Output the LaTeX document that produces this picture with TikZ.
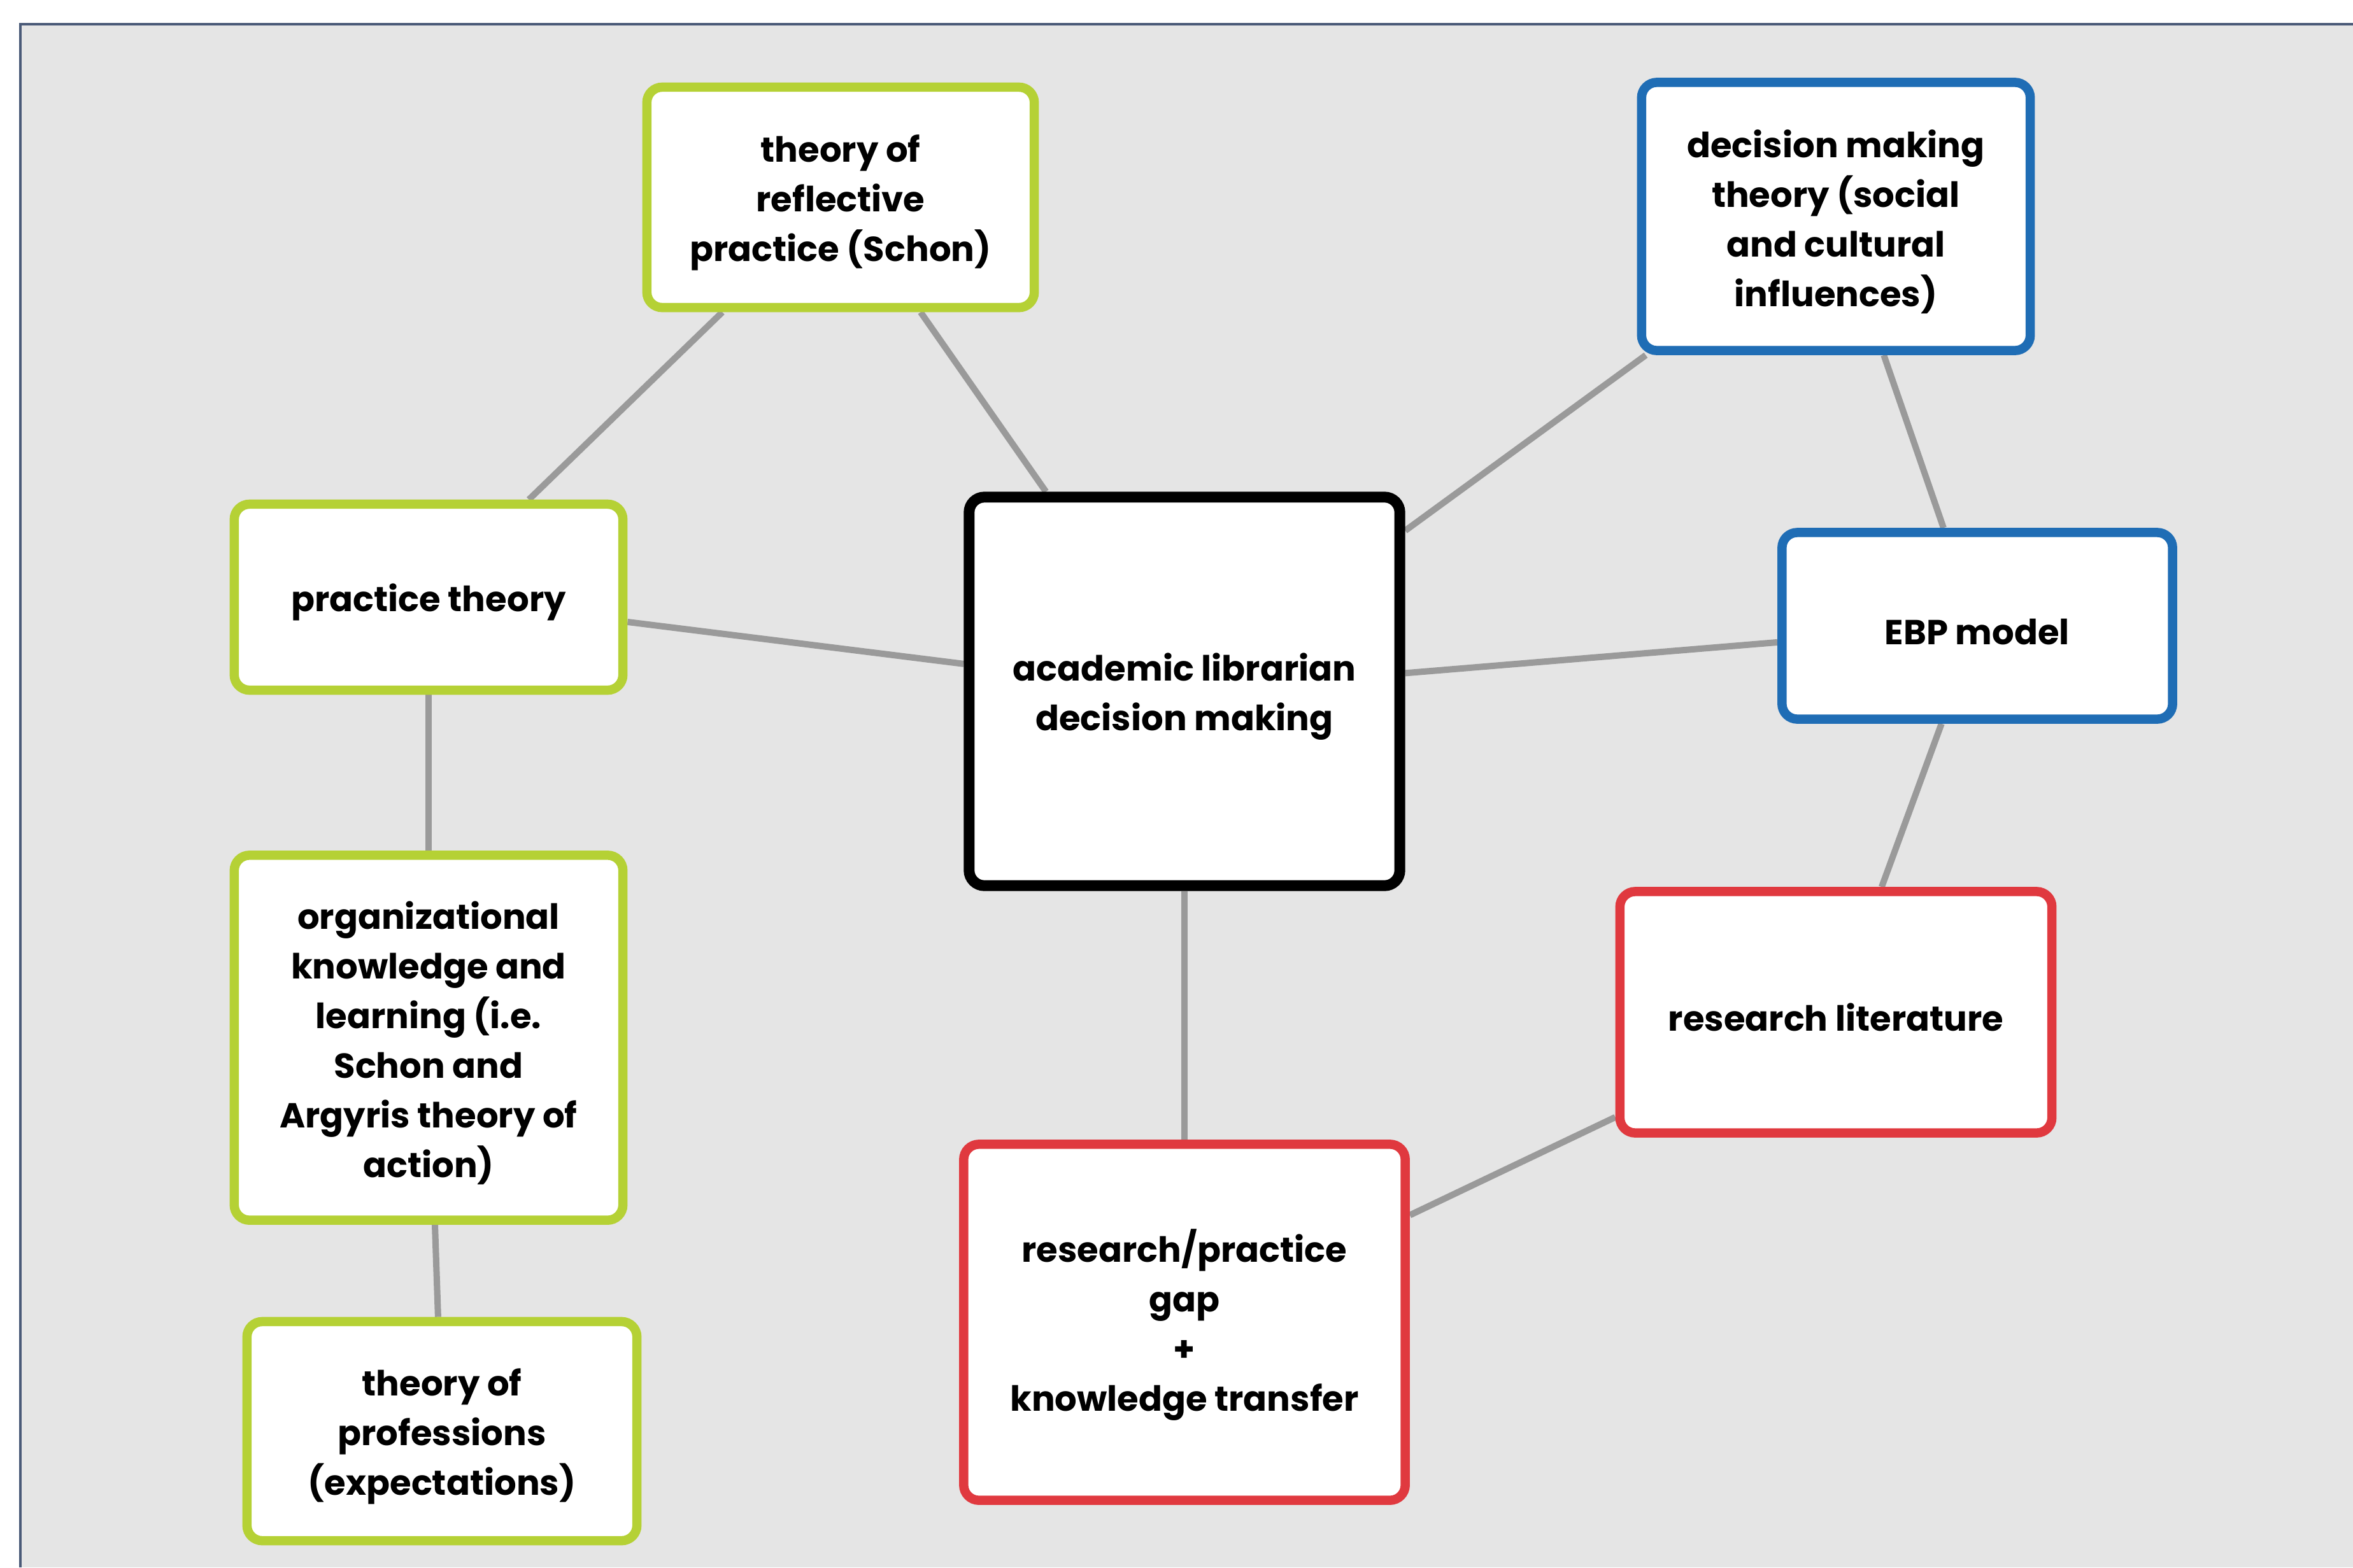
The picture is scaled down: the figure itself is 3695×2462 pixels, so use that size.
\documentclass[tikz,border=0pt]{standalone}
\usepackage{fontspec}
\setmainfont{Poppins}
\pgfdeclarelayer{panel}
\pgfdeclarelayer{lines}
\pgfsetlayers{panel,lines,main}
\definecolor{panelgray}{HTML}{E5E5E5}
\definecolor{framecol}{HTML}{4A5A78}
\definecolor{linkgray}{HTML}{9A9A9A}
\definecolor{boxgreen}{HTML}{B5D135}
\definecolor{boxblue}{HTML}{1F6DB5}
\definecolor{boxred}{HTML}{E0393F}
\newcommand{\topfix}{\rule{0pt}{1.1em}}
\tikzset{
  x=0.01cm, y=-0.01cm,
  mapbox/.style={draw, fill=white, line width=0.145cm, rounded corners=0.24cm,
    align=center, inner sep=0pt,
    font=\bfseries\fontsize{15.5}{22.2}\selectfont},
  greenbox/.style={mapbox, draw=boxgreen},
  bluebox/.style={mapbox, draw=boxblue},
  redbox/.style={mapbox, draw=boxred},
  corebox/.style={mapbox, draw=black, line width=0.17cm},
  link/.style={draw=linkgray, line width=0.1cm}
}
\begin{document}
\begin{tikzpicture}
\useasboundingbox (0,0) rectangle (3695,2462);
\begin{pgfonlayer}{panel}
  \fill[panelgray] (32,38) rectangle (3695,2462);
  \draw[framecol, line width=0.035cm] (32,2462) -- (32,38) -- (3695,38);
\end{pgfonlayer}

\node[greenbox, minimum width=6.08cm, minimum height=3.46cm] (refl) at (1320,310)
  {\topfix theory of\\reflective\\practice (Schon)};
\node[bluebox, minimum width=6.10cm, minimum height=4.21cm] (dmt) at (2883,340)
  {\topfix decision making\\theory (social\\and cultural\\influences)};
\node[greenbox, minimum width=6.10cm, minimum height=2.92cm] (prac) at (673,938)
  {\topfix practice theory};
\node[corebox, minimum width=6.76cm, minimum height=6.10cm] (core) at (1860,1086)
  {\topfix academic librarian\\decision making};
\node[bluebox, minimum width=6.13cm, minimum height=2.93cm] (ebp) at (3105,983)
  {\topfix EBP model};
\node[greenbox, minimum width=6.10cm, minimum height=5.73cm] (org) at (673,1630)
  {\topfix organizational\\knowledge and\\learning (i.e.\\Schon and\\Argyris theory of\\action)};
\node[redbox, minimum width=6.78cm, minimum height=3.79cm] (lit) at (2883,1590)
  {\topfix research literature};
\node[redbox, minimum width=6.93cm, minimum height=5.59cm] (gap) at (1860,2077)
  {\topfix research/practice\\gap\\+\\knowledge transfer};
\node[greenbox, minimum width=6.12cm, minimum height=3.44cm] (prof) at (694,2248)
  {\topfix theory of\\professions\\(expectations)};

\begin{pgfonlayer}{lines}
  \path[link] (refl) -- (prac);
  \path[link] (refl) -- (core);
  \path[link] (dmt) -- (core);
  \path[link] (dmt) -- (ebp);
  \path[link] (prac) -- (core);
  \path[link] (ebp) -- (core);
  \path[link] (prac) -- (org);
  \path[link] (ebp) -- (lit);
  \path[link] (core) -- (gap);
  \path[link] (lit) -- (gap);
  \path[link] (org) -- (prof);
\end{pgfonlayer}
\end{tikzpicture}
\end{document}
